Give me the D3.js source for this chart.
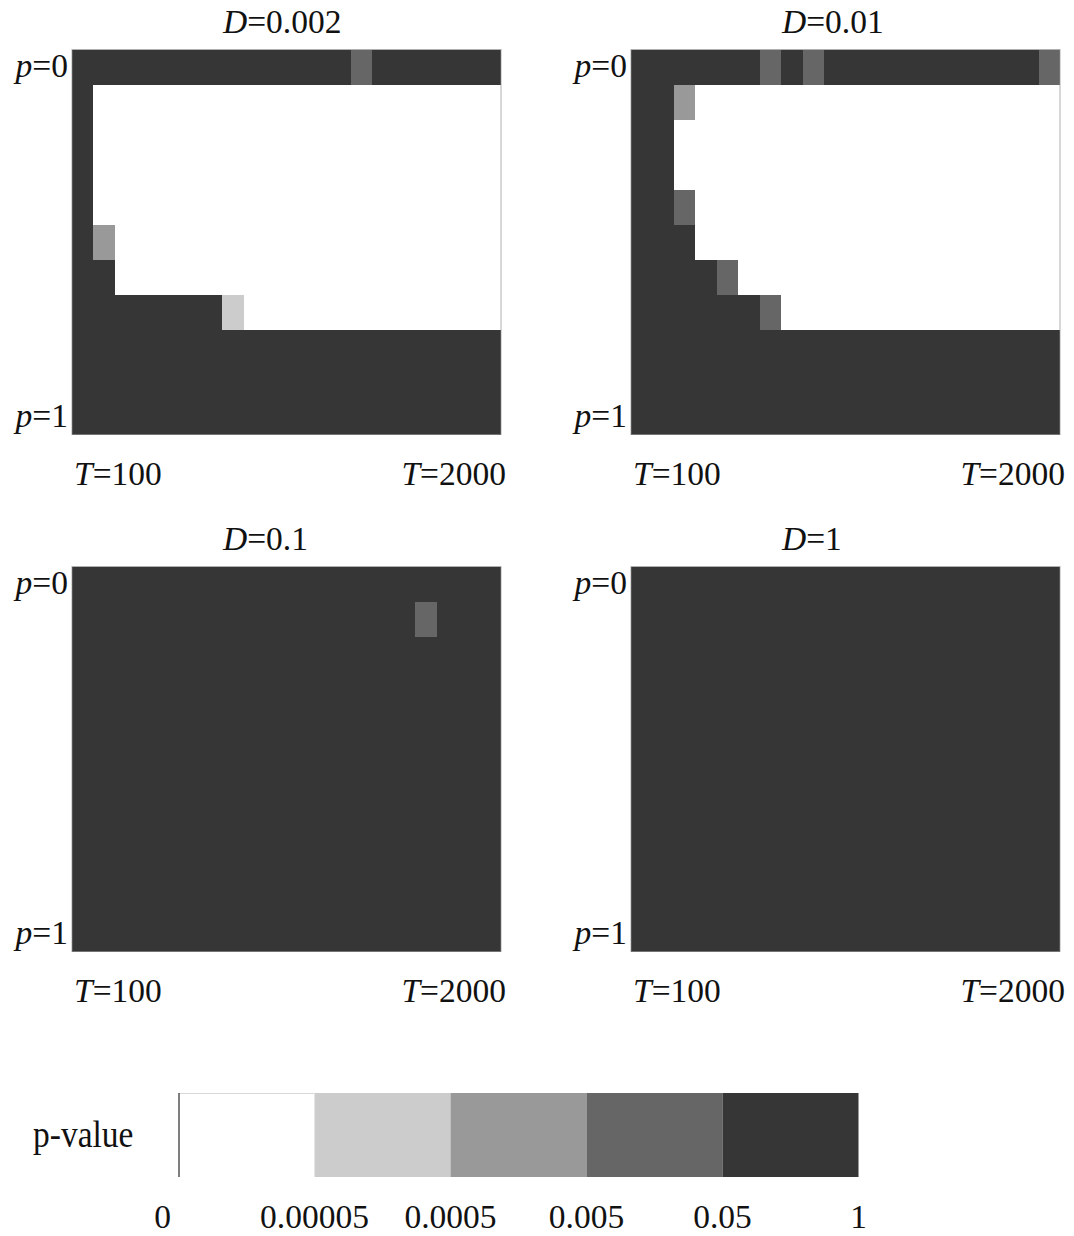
<!DOCTYPE html>
<html>
<head>
<meta charset="utf-8">
<script src="https://cdn.jsdelivr.net/npm/d3@7/dist/d3.min.js"></script>
<style>
  html, body { margin: 0; padding: 0; background: #fff; }
  svg { display: block; }
  text { font-family: "Liberation Serif", "Times New Roman", serif; fill: #111; }
</style>
</head>
<body>
<svg id="chart" width="1074" height="1236"></svg>
<script>
// Sample sizes (columns) and mixing proportions (rows)
const tValues = [100, 200, 300, 400, 500, 600, 700, 800, 900, 1000,
                 1100, 1200, 1300, 1400, 1500, 1600, 1700, 1800, 1900, 2000];
const pValues = [0, 0.1, 0.2, 0.3, 0.4, 0.5, 0.6, 0.7, 0.8, 0.9, 1];

// p-value bins: 0 = [0, 0.00005), 1 = [0.00005, 0.0005), 2 = [0.0005, 0.005),
// 3 = [0.005, 0.05), 4 = [0.05, 1]
const pBreaks = [0.00005, 0.0005, 0.005, 0.05];
const binTickLabels = ["0", "0.00005", "0.0005", "0.005", "0.05", "1"];
const binShades = ["#ffffff", "#cccccc", "#999999", "#666666", "#363636"];

// Binned p-value per cell, one string per p row (p=0 first), one digit per T column
const gridD0002 = [
  "44444444444443444444",
  "40000000000000000000",
  "40000000000000000000",
  "40000000000000000000",
  "40000000000000000000",
  "42000000000000000000",
  "44000000000000000000",
  "44444441000000000000",
  "44444444444444444444",
  "44444444444444444444",
  "44444444444444444444"
];
const gridD001 = [
  "44444434344444444443",
  "44200000000000000000",
  "44000000000000000000",
  "44000000000000000000",
  "44300000000000000000",
  "44400000000000000000",
  "44443000000000000000",
  "44444430000000000000",
  "44444444444444444444",
  "44444444444444444444",
  "44444444444444444444"
];
const gridD01 = [
  "44444444444444444444",
  "44444444444444443444",
  "44444444444444444444",
  "44444444444444444444",
  "44444444444444444444",
  "44444444444444444444",
  "44444444444444444444",
  "44444444444444444444",
  "44444444444444444444",
  "44444444444444444444",
  "44444444444444444444"
];
const gridD1 = [
  "44444444444444444444",
  "44444444444444444444",
  "44444444444444444444",
  "44444444444444444444",
  "44444444444444444444",
  "44444444444444444444",
  "44444444444444444444",
  "44444444444444444444",
  "44444444444444444444",
  "44444444444444444444",
  "44444444444444444444"
];
const dLabels = ["0.002", "0.01", "0.1", "1"];
const dGrids = [gridD0002, gridD001, gridD01, gridD1];

// ---- layout ----
const svg = d3.select("#chart");
const panelW = 429, panelH = 385;
const colLeft = [72, 631];
const rowTop = [49.5, 566.5];
const fontSize = 33.5;

const x = d3.scaleBand().domain(tValues).range([0, panelW]).padding(0);
const y = d3.scaleBand().domain(pValues).range([0, panelH]).padding(0);
const shade = d3.scaleOrdinal().domain(d3.range(binShades.length)).range(binShades);

dLabels.forEach((dLab, i) => {
  const left = colLeft[i % 2];
  const top = rowTop[Math.floor(i / 2)];
  const g = svg.append("g").attr("transform", `translate(${left},${top})`);

  const cells = [];
  dGrids[i].forEach((row, r) => {
    row.split("").forEach((ch, c) => {
      cells.push({ t: tValues[c], p: pValues[r], bin: +ch });
    });
  });

  g.selectAll("rect.cell")
    .data(cells)
    .join("rect")
    .attr("class", "cell")
    .attr("x", d => x(d.t))
    .attr("y", d => y(d.p))
    .attr("width", x.bandwidth())
    .attr("height", y.bandwidth())
    .attr("fill", d => shade(d.bin))
    .attr("shape-rendering", "crispEdges");

  g.append("rect")
    .attr("x", 0).attr("y", 0)
    .attr("width", panelW).attr("height", panelH)
    .attr("fill", "none")
    .attr("stroke", "#8f8f8f")
    .attr("stroke-width", 1)
    .attr("stroke-opacity", 0.7);

  // title
  const title = g.append("text")
    .attr("x", 151).attr("y", -16.5)
    .attr("font-size", fontSize);
  title.append("tspan").attr("font-style", "italic").text("D");
  title.append("tspan").text("=" + dLab);

  // p labels at first and last rows
  [pValues[0], pValues[pValues.length - 1]].forEach(pv => {
    const t = g.append("text")
      .attr("x", -4)
      .attr("y", y(pv) + y.bandwidth() / 2 + 9.5)
      .attr("text-anchor", "end")
      .attr("font-size", fontSize);
    t.append("tspan").attr("font-style", "italic").text("p");
    t.append("tspan").text("=" + pv);
  });

  // T labels at first and last columns
  const tFirst = g.append("text")
    .attr("x", x(tValues[0]) + 2)
    .attr("y", panelH + 50.5)
    .attr("text-anchor", "start")
    .attr("font-size", fontSize);
  tFirst.append("tspan").attr("font-style", "italic").text("T");
  tFirst.append("tspan").text("=" + tValues[0]);

  const tLast = g.append("text")
    .attr("x", x(tValues[tValues.length - 1]) + x.bandwidth() + 5)
    .attr("y", panelH + 50.5)
    .attr("text-anchor", "end")
    .attr("font-size", fontSize);
  tLast.append("tspan").attr("font-style", "italic").text("T");
  tLast.append("tspan").text("=" + tValues[tValues.length - 1]);
});

// ---- colour key ----
const key = svg.append("g");
const keyX = d3.scaleLinear().domain([0, binShades.length]).range([178.5, 858.5]);
const keyTop = 1093, keyH = 84;

key.selectAll("rect.bin")
  .data(binShades.map((c, k) => ({ k, c })))
  .join("rect")
  .attr("class", "bin")
  .attr("x", d => keyX(d.k))
  .attr("y", keyTop)
  .attr("width", d => keyX(d.k + 1) - keyX(d.k))
  .attr("height", keyH)
  .attr("fill", d => d.c);

key.append("line")
  .attr("x1", keyX(0)).attr("x2", keyX(1))
  .attr("y1", keyTop + 0.5).attr("y2", keyTop + 0.5)
  .attr("stroke", "#d8d8d8").attr("stroke-width", 1);
key.append("line")
  .attr("x1", keyX(0) + 0.5).attr("x2", keyX(0) + 0.5)
  .attr("y1", keyTop).attr("y2", keyTop + keyH)
  .attr("stroke", "#555").attr("stroke-width", 1.5);

key.append("text")
  .attr("transform", "translate(33,1147) scale(1,1.12)")
  .attr("font-size", fontSize)
  .text("p-value");

key.selectAll("text.tick")
  .data(binTickLabels.map((s, k) => ({ s, k })))
  .join("text")
  .attr("class", "tick")
  .attr("x", d => keyX(d.k) + (d.k === 0 ? -16 : 0))
  .attr("y", 1228)
  .attr("text-anchor", "middle")
  .attr("font-size", fontSize)
  .text(d => d.s);
</script>
</body>
</html>
